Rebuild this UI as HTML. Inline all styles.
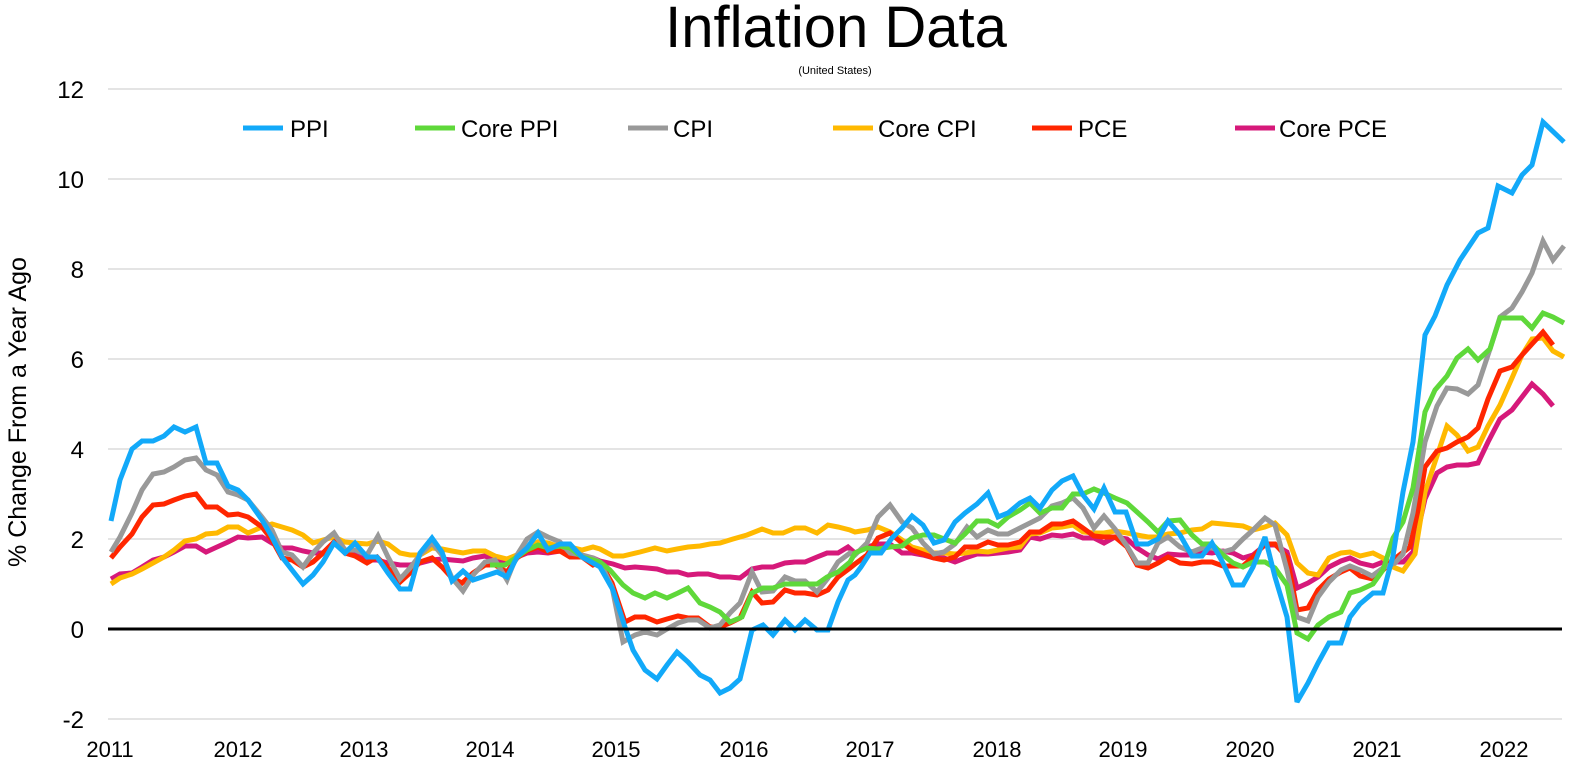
<!DOCTYPE html>
<html><head><meta charset="utf-8"><style>
html,body{margin:0;padding:0;background:#fff;}
svg{display:block;font-family:"Liberation Sans",Arial,sans-serif;}
</style></head><body>
<svg width="1570" height="765" viewBox="0 0 1570 765" xmlns="http://www.w3.org/2000/svg">
<rect width="1570" height="765" fill="#fff"/>
<text x="836" y="47" font-size="58" text-anchor="middle" fill="#000">Inflation Data</text>
<text x="835" y="74" font-size="11" text-anchor="middle" fill="#000">(United States)</text>
<g stroke="#d4d4d4" stroke-width="1.2">
<line x1="108" x2="1562" y1="89" y2="89"/><line x1="108" x2="1562" y1="179" y2="179"/>
<line x1="108" x2="1562" y1="269" y2="269"/><line x1="108" x2="1562" y1="359" y2="359"/>
<line x1="108" x2="1562" y1="449" y2="449"/><line x1="108" x2="1562" y1="539" y2="539"/>
<line x1="108" x2="1562" y1="719" y2="719"/>
</g>
<g font-size="24" text-anchor="end" fill="#000">
<text x="84" y="98">12</text><text x="84" y="188">10</text><text x="84" y="278">8</text>
<text x="84" y="368">6</text><text x="84" y="458">4</text><text x="84" y="548">2</text>
<text x="84" y="638">0</text><text x="84" y="728">-2</text>
</g>
<text transform="translate(26,412) rotate(-90)" font-size="25" text-anchor="middle">% Change From a Year Ago</text>
<g font-size="22" text-anchor="middle" fill="#000">
<text x="110" y="757">2011</text><text x="238" y="757">2012</text><text x="364" y="757">2013</text>
<text x="490" y="757">2014</text><text x="616" y="757">2015</text><text x="744" y="757">2016</text>
<text x="870" y="757">2017</text><text x="997" y="757">2018</text><text x="1123" y="757">2019</text>
<text x="1250" y="757">2020</text><text x="1377" y="757">2021</text><text x="1504" y="757">2022</text>
</g>
<g stroke-width="5" stroke-linecap="butt">
<line x1="243" x2="283" y1="128" y2="128" stroke="#12A9F9"/>
<line x1="415" x2="455" y1="128" y2="128" stroke="#5FD83A"/>
<line x1="628" x2="668" y1="128" y2="128" stroke="#999999"/>
<line x1="833" x2="873" y1="128" y2="128" stroke="#FFB900"/>
<line x1="1032" x2="1072" y1="128" y2="128" stroke="#FF2600"/>
<line x1="1235" x2="1275" y1="128" y2="128" stroke="#D6197A"/>
</g>
<g font-size="24" fill="#000">
<text x="290" y="137">PPI</text><text x="461" y="137">Core PPI</text><text x="673" y="137">CPI</text>
<text x="878" y="137">Core CPI</text><text x="1078" y="137">PCE</text><text x="1279" y="137">Core PCE</text>
</g>
<g fill="none" stroke-width="5" stroke-linejoin="miter" stroke-miterlimit="3">
<polyline stroke="#D6197A" points="111,579 120,574 132,573 142,567 153,560 164,557 174,552 185,546 196,546 206,552 217,547 228,542 238,537 248,538 262,537 272,543 282,548 292,548 303,551 313,553 323,553 334,542 345,553 355,553 367,560 377,560 388,563 400,565 410,565 420,563 432,560 442,559 452,560 463,561 473,558 485,556 495,560 507,563 517,557 527,553 538,552 548,553 560,551 570,555 582,557 593,558 600,561 613,564 625,568 635,567 647,568 657,569 667,572 678,572 688,575 698,574 708,574 720,577 730,577 740,578 752,569 762,567 773,567 785,563 795,562 805,562 817,557 827,553 838,553 848,547 855,553 867,547 878,544 890,544 902,553 912,553 923,555 934,558 944,558 955,562 965,558 977,554 988,554 998,553 1008,552 1020,550 1030,537 1040,539 1052,535 1062,536 1073,534 1083,538 1094,538 1104,543 1115,537 1127,539 1137,548 1148,555 1158,559 1168,554 1180,555 1192,555 1202,552 1212,553 1223,551 1233,553 1243,558 1253,555 1265,545 1275,545 1287,552 1297,588 1308,583 1318,577 1329,567 1341,561 1350,558 1360,563 1373,566 1383,562 1393,562 1403,562 1413,552 1425,499 1437,473 1447,467 1457,465 1468,465 1478,463 1488,442 1500,419 1512,410 1522,397 1532,384 1543,394 1553,406"/>
<polyline stroke="#FFB900" points="111,584 120,578 132,574 142,569 153,563 164,557 174,550 185,541 196,539 206,534 217,533 228,527 238,527 248,533 262,527 272,524 282,527 292,530 303,535 313,543 323,540 334,537 345,542 355,543 367,544 378,541 388,544 400,553 410,555 420,555 432,548 442,549 452,551 463,553 473,551 485,551 495,556 507,559 517,555 527,548 538,542 548,543 560,547 570,547 582,550 593,547 600,549 613,556 623,556 640,552 655,548 667,551 677,549 688,547 700,546 710,544 720,543 733,539 747,535 762,529 773,533 783,533 795,528 805,528 817,533 828,525 838,527 850,530 855,532 867,530 878,527 890,532 902,540 912,547 923,550 934,553 944,553 955,554 965,553 977,551 988,552 998,550 1008,548 1020,547 1030,534 1040,533 1052,528 1062,527 1073,525 1083,532 1094,533 1104,533 1115,531 1127,533 1137,535 1148,537 1158,537 1168,534 1180,533 1192,530 1202,529 1212,523 1223,524 1233,525 1243,526 1253,530 1265,527 1275,523 1287,535 1297,563 1308,573 1318,575 1329,558 1341,553 1350,552 1360,556 1373,553 1383,558 1393,567 1403,571 1415,554 1425,492 1437,456 1447,426 1457,435 1468,451 1478,447 1488,426 1500,405 1512,378 1522,355 1532,339 1543,338 1553,351 1564,357"/>
<polyline stroke="#FF2600" points="111,558 120,547 132,534 142,517 153,505 164,504 174,500 185,496 196,494 206,507 217,507 228,515 238,514 248,517 262,527 272,540 282,558 292,560 303,567 313,562 323,553 334,542 345,553 355,556 367,563 377,557 388,568 400,582 410,573 420,562 432,558 442,567 452,578 462,583 473,573 485,565 495,565 507,572 517,558 527,551 538,547 548,552 560,551 570,557 582,557 593,565 600,562 612,583 625,622 635,617 645,617 657,622 667,619 678,616 688,618 698,618 710,627 720,627 730,623 740,618 752,592 762,603 773,602 785,590 795,593 805,593 817,595 828,590 838,577 850,568 855,564 867,555 878,538 890,533 902,543 912,550 923,554 934,558 944,560 955,557 965,547 977,547 988,542 998,545 1008,545 1020,542 1030,532 1040,532 1052,524 1062,524 1073,521 1083,528 1094,536 1104,537 1115,537 1127,547 1137,565 1148,568 1158,563 1168,557 1180,563 1192,564 1202,562 1212,562 1223,566 1233,566 1243,566 1253,557 1265,544 1275,544 1287,557 1297,610 1308,608 1318,590 1329,579 1341,572 1350,568 1360,576 1373,579 1383,570 1393,560 1410,547 1418,510 1425,467 1437,451 1447,448 1457,442 1468,437 1478,428 1488,399 1500,371 1512,367 1522,355 1532,344 1543,332 1553,345"/>
<polyline stroke="#999999" points="111,552 120,537 132,513 142,490 153,474 164,472 174,467 185,460 196,458 206,470 217,475 228,492 238,495 248,500 262,517 272,530 282,552 292,555 303,567 313,553 323,542 334,533 345,550 355,550 367,555 378,536 388,557 400,579 410,568 420,555 432,543 442,555 452,578 463,591 473,575 485,562 495,560 507,580 517,555 527,539 538,532 548,537 560,542 570,553 582,555 593,558 600,562 612,587 623,642 635,635 645,632 657,635 667,629 678,623 688,620 698,620 710,628 720,625 730,613 740,603 752,572 762,592 773,591 785,577 795,581 805,581 817,592 828,578 838,562 850,553 855,555 867,543 878,517 890,505 902,522 912,528 923,543 934,554 944,552 955,544 967,527 977,537 988,530 998,534 1008,534 1020,528 1030,523 1040,518 1052,506 1062,503 1073,498 1083,508 1094,528 1104,516 1115,529 1127,546 1137,563 1148,563 1158,543 1168,537 1180,547 1192,552 1202,548 1212,548 1223,552 1233,549 1243,539 1253,530 1265,518 1275,525 1287,570 1297,617 1308,621 1318,597 1329,582 1341,570 1350,566 1360,570 1372,576 1383,568 1395,563 1403,554 1413,513 1425,442 1437,406 1447,388 1457,389 1468,394 1478,385 1490,349 1500,317 1512,308 1522,292 1532,273 1543,241 1553,260 1564,246"/>
<polyline stroke="#5FD83A" points="490,565 505,565 517,557 527,550 538,545 548,548 560,546 570,548 582,557 593,560 600,562 610,570 623,585 633,593 645,598 655,593 667,598 678,593 688,588 700,603 710,607 720,612 730,622 742,617 752,593 763,588 773,588 785,584 795,584 805,584 817,584 827,577 838,572 850,562 855,553 867,548 878,549 890,547 902,546 912,538 923,535 934,535 944,539 955,543 965,534 977,521 988,521 998,526 1008,517 1020,510 1030,503 1040,513 1052,508 1062,508 1073,494 1083,494 1094,489 1104,493 1115,498 1127,503 1137,512 1148,522 1158,532 1168,521 1180,520 1192,535 1202,544 1212,544 1223,555 1233,563 1243,567 1253,562 1265,562 1275,568 1287,585 1297,633 1308,639 1318,625 1329,617 1341,612 1350,593 1360,590 1373,584 1383,570 1393,538 1403,522 1413,488 1425,412 1435,390 1447,376 1457,358 1468,349 1478,360 1490,349 1500,318 1512,318 1522,318 1532,328 1543,313 1553,317 1564,323"/>
<polyline stroke="#12A9F9" points="111,521 120,480 132,449 142,441 153,441 164,436 174,427 185,432 196,427 206,463 217,463 228,486 238,490 248,500 262,520 272,537 282,557 292,570 303,584 313,575 323,562 334,543 345,553 355,543 367,557 377,557 388,573 400,589 410,589 420,553 432,538 442,552 452,581 463,571 473,580 485,576 497,572 507,577 517,557 527,548 538,533 548,550 560,544 570,544 582,557 593,563 600,567 613,590 625,627 633,650 645,670 657,679 667,665 677,652 688,662 700,675 710,680 720,693 730,688 740,679 752,630 763,625 773,635 785,620 795,630 805,620 817,630 828,630 838,602 848,580 855,575 861,567 870,553 881,553 892,538 902,528 912,516 923,525 934,543 944,540 955,522 965,513 977,504 988,493 998,517 1008,513 1020,503 1030,498 1040,508 1052,490 1062,481 1073,476 1083,495 1094,509 1104,488 1115,512 1126,512 1137,544 1148,544 1158,539 1168,521 1180,535 1192,556 1202,556 1212,543 1223,563 1233,585 1243,585 1253,567 1265,537 1275,577 1287,617 1297,702 1308,683 1318,663 1329,643 1341,643 1350,617 1360,604 1373,593 1383,593 1393,556 1403,492 1413,442 1425,335 1435,316 1447,285 1460,260 1478,233 1488,228 1498,186 1512,193 1522,175 1532,165 1543,122 1564,142"/>
</g>
<line x1="108" x2="1562" y1="629" y2="629" stroke="#000" stroke-width="3"/>
</svg>
</body></html>
